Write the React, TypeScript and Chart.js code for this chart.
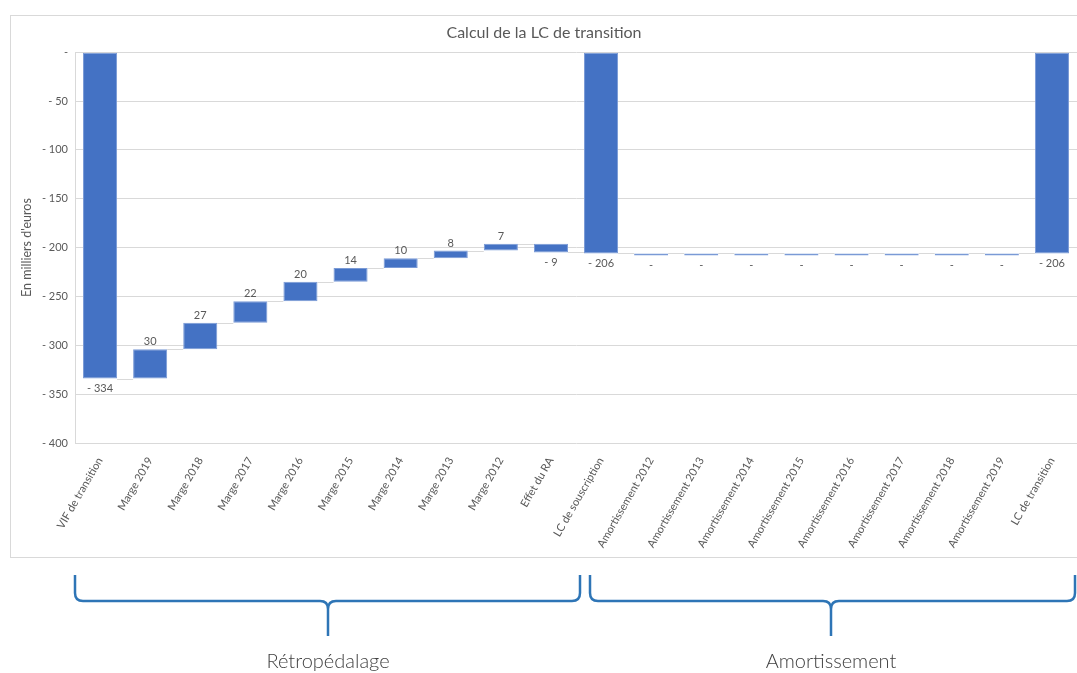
import React, { useEffect, useRef } from "react";
import { Chart, registerables } from "chart.js";

Chart.register(...registerables);

const categories = [
  "VIF de transition",
  "Marge 2019",
  "Marge 2018",
  "Marge 2017",
  "Marge 2016",
  "Marge 2015",
  "Marge 2014",
  "Marge 2013",
  "Marge 2012",
  "Effet du RA",
  "LC de souscription",
  "Amortissement 2012",
  "Amortissement 2013",
  "Amortissement 2014",
  "Amortissement 2015",
  "Amortissement 2016",
  "Amortissement 2017",
  "Amortissement 2018",
  "Amortissement 2019",
  "LC de transition",
];
const values = [-334, 30, 27, 22, 20, 14, 10, 8, 7, -9, -206, 0, 0, 0, 0, 0, 0, 0, 0, -206];
const isTotal = [true, false, false, false, false, false, false, false, false, false, true, false, false, false, false, false, false, false, false, true];
const yMin = -400;
const yMax = 0;
const yStep = 50;
const chartTitle = "Calcul de la LC de transition";
const yTitle = "En milliers d'euros";
const groupLabels = ["Rétropédalage", "Amortissement"];

const FONT = "Lato, 'Open Sans', 'DejaVu Sans', sans-serif";
const GREY = "#595959";

function fmt(v: number): string {
  if (v === 0) return "-";
  if (v < 0) return "- " + Math.abs(v);
  return String(v);
}

function buildFloating(): [number, number][] {
  const out: [number, number][] = [];
  let run = 0;
  values.forEach((v, i) => {
    if (isTotal[i]) {
      out.push([0, v]);
      run = v;
    } else {
      out.push([run, run + v]);
      run = run + v;
    }
  });
  return out;
}

const connectorPlugin = {
  id: "connectors",
  beforeDatasetsDraw(chart: any) {
    const meta = chart.getDatasetMeta(0);
    const floats = chart.data.datasets[0].data as [number, number][];
    const ys = chart.scales.y;
    const ctx = chart.ctx;
    ctx.save();
    ctx.strokeStyle = "#d9d9d9";
    ctx.lineWidth = 1;
    for (let i = 0; i < meta.data.length - 1; i++) {
      const a = meta.data[i].getProps(["x", "width"], true);
      const b = meta.data[i + 1].getProps(["x", "width"], true);
      const level = floats[i][1];
      const y = Math.round(ys.getPixelForValue(level)) + 0.5;
      ctx.beginPath();
      ctx.moveTo(a.x + a.width / 2, y);
      ctx.lineTo(b.x - b.width / 2, y);
      ctx.stroke();
    }
    ctx.restore();
  },
};

const labelPlugin = {
  id: "barLabels",
  afterDatasetsDraw(chart: any) {
    const meta = chart.getDatasetMeta(0);
    const ctx = chart.ctx;
    ctx.save();
    ctx.fillStyle = GREY;
    ctx.font = `11px ${FONT}`;
    ctx.textAlign = "center";
    meta.data.forEach((bar: any, i: number) => {
      const { x, y, base } = bar.getProps(["x", "y", "base"], true);
      const top = Math.min(y, base);
      const bottom = Math.max(y, base);
      const v = values[i];
      if (!isTotal[i] && v > 0) {
        ctx.textBaseline = "bottom";
        ctx.fillText(fmt(v), x, top - 2);
      } else {
        ctx.textBaseline = "top";
        ctx.fillText(fmt(v), x, bottom + 4);
      }
    });
    ctx.restore();
  },
};

function bracePath(x1: number, x2: number, cx: number, yTop: number, yMid: number, yTip: number): string {
  const r = 8;
  return [
    `M ${x1} ${yTop}`,
    `L ${x1} ${yMid - r}`,
    `Q ${x1} ${yMid} ${x1 + r} ${yMid}`,
    `L ${cx - r} ${yMid}`,
    `Q ${cx} ${yMid} ${cx} ${yMid + r}`,
    `L ${cx} ${yTip}`,
    `M ${cx} ${yMid + r}`,
    `Q ${cx} ${yMid} ${cx + r} ${yMid}`,
    `L ${x2 - r} ${yMid}`,
    `Q ${x2} ${yMid} ${x2} ${yMid - r}`,
    `L ${x2} ${yTop}`,
  ].join(" ");
}

export default function App() {
  const canvasRef = useRef<HTMLCanvasElement | null>(null);

  useEffect(() => {
    if (!canvasRef.current) return;
    const chart = new Chart(canvasRef.current, {
      type: "bar",
      data: {
        labels: categories,
        datasets: [
          {
            data: buildFloating() as any,
            backgroundColor: "#4472C4",
            borderColor: "#7a9ad6",
            borderWidth: 1,
            borderSkipped: false,
            barPercentage: 0.68,
            categoryPercentage: 1,
            minBarLength: 2,
          } as any,
        ],
      },
      options: {
        animation: false,
        responsive: true,
        maintainAspectRatio: false,
        layout: { padding: 0 },
        plugins: {
          legend: { display: false },
          tooltip: { enabled: false },
          title: {
            display: true,
            text: chartTitle,
            color: GREY,
            font: { family: FONT, size: 16, weight: "normal" as any },
            padding: { top: 7, bottom: 10 },
          },
        },
        scales: {
          x: {
            grid: { display: false },
            border: { display: false },
            ticks: {
              color: GREY,
              font: { family: FONT, size: 11 },
              minRotation: 60,
              maxRotation: 60,
              autoSkip: false,
              padding: 4,
            },
            afterFit: (s: any) => {
              s.height = 114;
            },
          },
          y: {
            min: yMin,
            max: yMax,
            ticks: {
              stepSize: yStep,
              color: GREY,
              font: { family: FONT, size: 11 },
              padding: 7,
              callback: (v: any) => fmt(Number(v)),
            },
            grid: { color: "#d9d9d9", drawTicks: false },
            border: { display: true, color: "#d9d9d9" },
            title: {
              display: true,
              text: yTitle,
              color: GREY,
              font: { family: FONT, size: 12.5 },
              padding: { top: 8, bottom: 0 },
            },
            afterFit: (s: any) => {
              s.width = 64;
            },
          },
        },
      },
      plugins: [connectorPlugin, labelPlugin],
    });
    return () => chart.destroy();
  }, []);

  return (
    <div style={{ position: "absolute", left: 0, top: 0, width: 1077, height: 673, overflow: "hidden", background: "#fff" }}>
      <div
        style={{
          position: "absolute",
          left: 10,
          top: 15,
          width: 1066,
          height: 541,
          borderLeft: "1px solid #d9d9d9",
          borderTop: "1px solid #d9d9d9",
          borderBottom: "1px solid #d9d9d9",
        }}
      >
        <canvas ref={canvasRef} />
      </div>
      <svg
        width={1077}
        height={673}
        style={{ position: "absolute", left: 0, top: 0, pointerEvents: "none" }}
      >
        <path d={bracePath(75, 580, 328, 575, 601, 636)} fill="none" stroke="#2E75B6" strokeWidth={2.5} />
        <path d={bracePath(590, 1075, 831, 575, 601, 636)} fill="none" stroke="#2E75B6" strokeWidth={2.5} />
        <text x={328} y={668} textAnchor="middle" fontFamily={FONT} fontWeight={300} fontSize={20} fill="#404040">
          {groupLabels[0]}
        </text>
        <text x={831} y={668} textAnchor="middle" fontFamily={FONT} fontWeight={300} fontSize={20} fill="#404040">
          {groupLabels[1]}
        </text>
      </svg>
    </div>
  );
}
